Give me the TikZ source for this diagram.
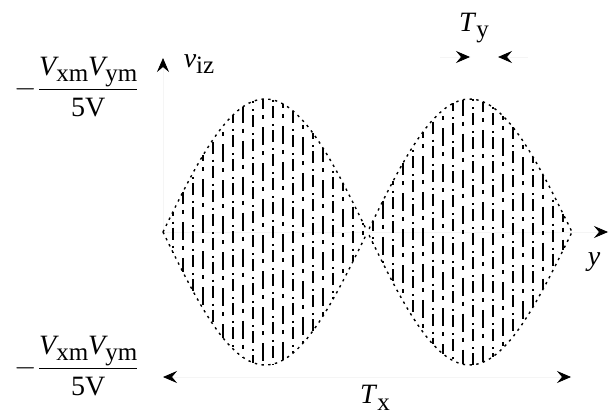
\documentclass[tikz,border=0pt]{standalone}
\usepackage{fontspec}
\setmainfont{Liberation Serif}
\usetikzlibrary{arrows.meta}
\newcommand{\sbs}[1]{\raisebox{-0.5ex}{\fontsize{12.5}{14}\selectfont #1}}
\begin{document}
\begin{tikzpicture}[x=0.5pt,y=-0.5pt,
  declare function={envl(\t)=133*abs(sin((\t-163)/204.5*180));},
  lbl/.style={inner sep=0pt, font=\fontsize{14}{16}\selectfont},
  tipk/.style={-{Stealth[black,length=7pt,width=6pt,inset=2.5pt]}},
  tipkk/.style={{Stealth[black,length=7pt,width=6pt,inset=2.5pt]}-{Stealth[black,length=7pt,width=6pt,inset=2.5pt]}},
  faint/.style={draw=gray!8, line width=0.4pt},
  envline/.style={line width=0.7pt, dash pattern=on 1.2pt off 2.2pt},
  carA/.style={line width=0.6pt, dash pattern=on 9pt off 3pt on 2pt off 4pt},
  carB/.style={line width=0.6pt, dash pattern=on 1pt off 2pt on 6pt off 3pt},
]
\useasboundingbox (0,0) rectangle (609,417);

% axes and dimension markers
\coordinate (O) at (163,232);
\coordinate (vtop) at (163,58);
\coordinate (yend) at (608,232);
\coordinate (txl) at (163,377);
\coordinate (txr) at (571,377);
\coordinate (tyl0) at (440,57);
\coordinate (tyl) at (470,57);
\coordinate (tyr0) at (528,57);
\coordinate (tyr) at (498,57);

\draw[faint, tipk] (O) -- (vtop);
\draw[faint, tipk] (O) -- (yend);
\draw[faint, tipkk] (txl) -- (txr);
\draw[faint, tipk] (tyl0) -- (tyl);
\draw[faint, tipk] (tyr0) -- (tyr);

% envelope
\draw[envline, domain=163:572, samples=120] plot (\x, {232-envl(\x)});
\draw[envline, domain=163:572, samples=120] plot (\x, {232+envl(\x)});

% carrier
\foreach \i in {1,...,40}{
  \pgfmathsetmacro\xx{163+10*\i}
  \pgfmathsetmacro\aa{envl(\xx)}
  \pgfmathsetmacro\ph{mod(\i*7,11)}
  \pgfmathtruncatemacro\pp{mod(\i,2)}
  \ifnum\pp=0
    \draw[carA, dash phase=\ph pt] (\xx,{232-\aa}) -- (\xx,{232+\aa});
  \else
    \draw[carB, dash phase=\ph pt] (\xx,{232-\aa}) -- (\xx,{232+\aa});
  \fi
}

% labels
\node[lbl] (topfrac) at (77,87) {$-\displaystyle\frac{\textit{V}\sbs{xm}\textit{V}\sbs{ym}}{\mbox{5V}}$};
\node[lbl] (botfrac) at (77,366) {$-\displaystyle\frac{\textit{V}\sbs{xm}\textit{V}\sbs{ym}}{\mbox{5V}}$};
\node[lbl] (viz) at (199,64) {\textit{v}\sbs{iz}};
\node[lbl] (ty) at (474,28) {\textit{T}\sbs{y}};
\node[lbl] (tx) at (375,398) {\textit{T}\sbs{x}};
\node[lbl] (ylab) at (594,262) {\textit{y}};
\end{tikzpicture}
\end{document}
